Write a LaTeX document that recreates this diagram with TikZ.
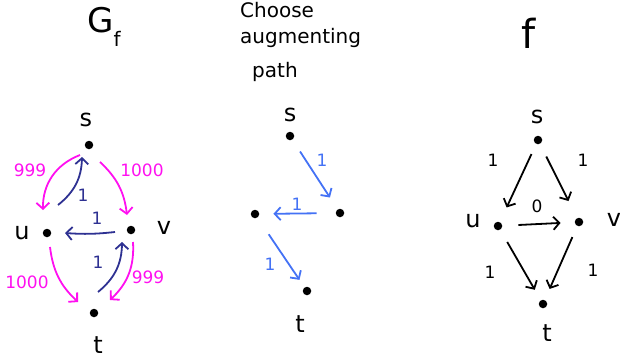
\documentclass[tikz,border=0pt]{standalone}
\usepackage{fontspec}
\setmainfont{DejaVu Sans}
\usetikzlibrary{arrows.meta}
\definecolor{mag}{HTML}{FF10F0}
\definecolor{navy}{HTML}{2E3192}
\definecolor{lblue}{HTML}{4472F5}
\begin{document}
\begin{tikzpicture}[x=1pt,y=-1pt,
  dot/.style={circle,fill=black,inner sep=0pt,minimum size=8.5pt},
  lbl/.style={inner sep=0pt,font=\fontsize{24}{24}\selectfont},
  num/.style={inner sep=0pt,font=\fontsize{17}{17}\selectfont},
  ttl/.style={inner sep=0pt,font=\fontsize{20}{20}\selectfont,anchor=base west},
  arr/.style={line width=1.8pt,-{Straight Barb[length=6pt,width=13pt]}},
  magarr/.style={arr,draw=mag},
  navarr/.style={arr,draw=navy},
  bluarr/.style={arr,draw=lblue},
  blkarr/.style={arr,draw=black}]
\useasboundingbox (0,0) rectangle (620,360);

% ---------- G_f ----------
\node[lbl,font=\fontsize{34}{34}\selectfont] (gf) at (104,27) {G\raisebox{-0.42em}{\fontsize{20}{20}\selectfont f}};

\node[dot] (s1) at (89,145) {};
\node[dot] (u1) at (47,233) {};
\node[dot] (v1) at (131,230) {};
\node[dot] (t1) at (94,313) {};
\node[lbl] (s1l) at (86,120) {s};
\node[lbl] (u1l) at (22,233) {u};
\node[lbl] (v1l) at (164,228) {v};
\node[lbl] (t1l) at (98,345) {t};

\draw[magarr,bend right=35] ([shift={(-9,10)}]s1.center) to ([shift={(-4,-23)}]u1.center);
\draw[navarr,bend right=25] ([shift={(11,-28)}]u1.center) to ([shift={(-7,12)}]s1.center);
\draw[magarr,bend left=20] ([shift={(11,17)}]s1.center) to ([shift={(-4,-15)}]v1.center);
\draw[navarr,bend left=5] ([shift={(-16,2)}]v1.center) to ([shift={(18,0)}]u1.center);
\draw[magarr,bend right=20] ([shift={(3,14)}]u1.center) to ([shift={(-16,-11)}]t1.center);
\draw[navarr,bend right=25] ([shift={(4,-21)}]t1.center) to ([shift={(-9,12)}]v1.center);
\draw[magarr,bend left=25] ([shift={(2,12)}]v1.center) to ([shift={(16,-13)}]t1.center);

\node[num,text=mag] (n1) at (30,170) {999};
\node[num,text=mag] (n2) at (142,170) {1000};
\node[num,text=navy] (n3) at (83,195) {1};
\node[num,text=navy] (n4) at (97,218) {1};
\node[num,text=mag] (n5) at (27,282) {1000};
\node[num,text=navy] (n6) at (98,262) {1};
\node[num,text=mag] (n7) at (148,277) {999};

% ---------- augmenting path ----------
\node[ttl] (c1) at (240,17) {Choose};
\node[ttl] (c2) at (240,43) {augmenting};
\node[ttl] (c3) at (252,77) {path};

\node[dot] (s2) at (290,136) {};
\node[dot] (v2) at (340,213) {};
\node[dot] (u2) at (255,214) {};
\node[dot] (t2) at (307,291) {};
\node[lbl] (s2l) at (290,115) {s};
\node[lbl] (t2l) at (300,324) {t};

\draw[bluarr,shorten <=14pt,shorten >=14pt] (s2) to (v2);
\draw[bluarr,shorten <=19pt,shorten >=14pt] (v2) to (u2);
\draw[bluarr,shorten <=20pt,shorten >=9pt] (u2) to (t2);
\node[num,text=lblue] (m1) at (322,160) {1};
\node[num,text=lblue] (m2) at (297,204) {1};
\node[num,text=lblue] (m3) at (270,264) {1};

% ---------- f ----------
\node[lbl,font=\fontsize{40}{40}\selectfont] (fl) at (529,33) {f};

\node[dot] (s3) at (538,140) {};
\node[dot] (u3) at (498,226) {};
\node[dot] (v3) at (579,222) {};
\node[dot] (t3) at (543,304) {};
\node[lbl] (s3l) at (537,117) {s};
\node[lbl] (u3l) at (473,221) {u};
\node[lbl] (v3l) at (614,220) {v};
\node[lbl] (t3l) at (547,333) {t};

\draw[blkarr,shorten <=11pt,shorten >=16pt] (s3) to (u3);
\draw[blkarr,shorten <=14pt,shorten >=19pt] (s3) to (v3);
\draw[blkarr,shorten <=16pt,shorten >=14pt] (u3) to (v3);
\draw[blkarr,shorten <=14pt,shorten >=12pt] (u3) to (t3);
\draw[blkarr,shorten <=12pt,shorten >=12pt] (v3) to (t3);
\node[num] (k1) at (493,160) {1};
\node[num] (k2) at (583,160) {1};
\node[num] (k3) at (537,206) {0};
\node[num] (k4) at (490,272) {1};
\node[num] (k5) at (593,270) {1};
\end{tikzpicture}
\end{document}
